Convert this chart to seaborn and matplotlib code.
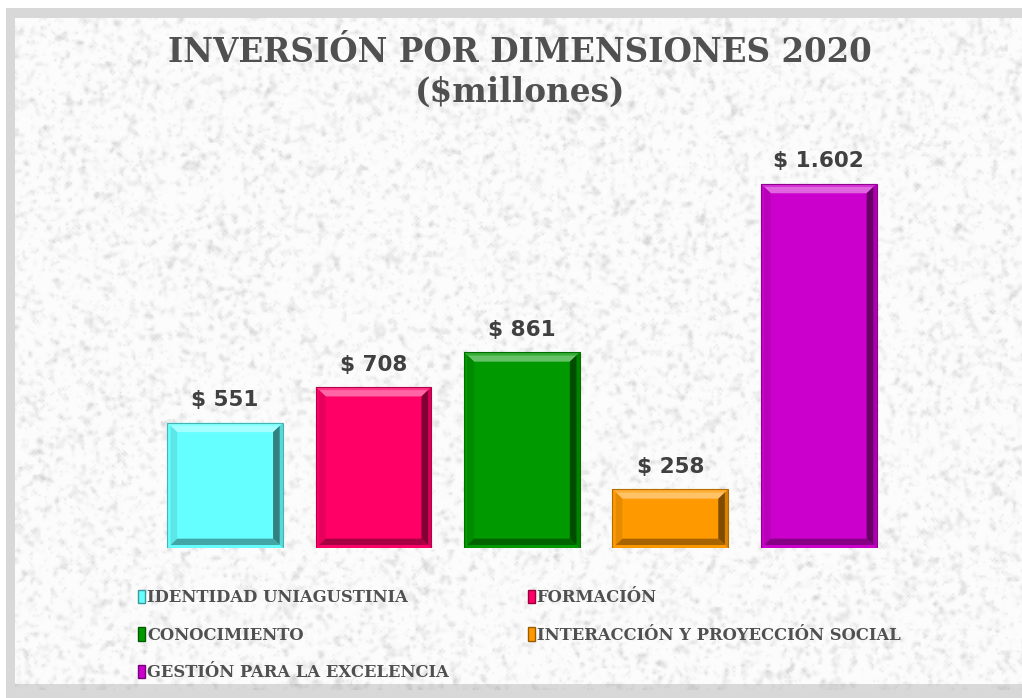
import numpy as np
import pandas as pd
import matplotlib
matplotlib.use("Agg")
import matplotlib.pyplot as plt
import seaborn as sns
from matplotlib.patches import Polygon, Rectangle, Patch
from matplotlib.colors import to_rgb

# Data
categories = [
    "IDENTIDAD UNIAGUSTINIA",
    "FORMACIÓN",
    "CONOCIMIENTO",
    "INTERACCIÓN Y PROYECCIÓN SOCIAL",
    "GESTIÓN PARA LA EXCELENCIA",
]
values = [551, 708, 861, 258, 1602]
value_labels = ["$ 551", "$ 708", "$ 861", "$ 258", "$ 1.602"]
colors = ["#66ffff", "#ff0066", "#009900", "#ff9900", "#cc00cc"]

TITLE = "INVERSIÓN POR DIMENSIONES 2020\n($millones)"
TEXT_COLOR = "#505050"

df = pd.DataFrame({"dimension": categories, "valor": values})

sns.set_theme(style="white")
plt.rcParams["font.family"] = ["DejaVu Sans"]

fig = plt.figure(figsize=(10.22, 6.98), dpi=100, facecolor="white")

# Frame: grey border + light stone-like textured panel
bg = fig.add_axes([0, 0, 1, 1], zorder=-10)
bg.add_patch(Rectangle((6, 8), 1030, 700, facecolor="#d8d8d8",
                       edgecolor="none", zorder=0))
rng = np.random.default_rng(3)
noise = rng.random((340, 520))
sm = noise.copy()
for _ in range(2):
    sm = (sm + np.roll(sm, 1, 0) + np.roll(sm, -1, 0)
          + np.roll(sm, 1, 1) + np.roll(sm, -1, 1)) / 5
tex = 0.985 - 0.12 * np.clip((sm - 0.52) * 4.0, 0, 1) - 0.04 * (noise > 0.95)
bg.imshow(tex, cmap="gray", vmin=0, vmax=1, extent=(15, 1040, 690, 18),
          aspect="auto", interpolation="bilinear", zorder=1)
# faint inner shading along the panel's bottom edge
bg.add_patch(Rectangle((15, 684), 1030, 6, facecolor="#9a9a9a", alpha=0.35,
                       edgecolor="none", zorder=2))
bg.set_xlim(0, 1022)
bg.set_ylim(698, 0)
bg.set_autoscale_on(False)
bg.axis("off")

# Bar area
ax = fig.add_axes([0.1477, 0.2149, 0.7260, 0.5860])
ax.patch.set_alpha(0)
sns.barplot(data=df, x="dimension", y="valor", hue="dimension",
            palette=colors, saturation=1, width=0.78, legend=False, ax=ax,
            edgecolor="none", linewidth=0)
ax.set_xlim(-0.5, 4.5)
ax.set_ylim(0, 1800)
ax.axis("off")

# Bevelled look, built from the bar patches themselves
rx, ry = 0.022, 13     # flat outer rim
bx, by = 0.045, 28     # sloped bevel
for patch, col in zip(list(ax.patches), colors):
    x0, y0 = patch.get_x(), patch.get_y()
    w, h = patch.get_width(), patch.get_height()
    x1, y1 = x0 + w, y0 + h
    base = np.array(to_rgb(col))
    light = base + (1 - base) * 0.4
    # outer rim highlight on top/left, shade on right/bottom
    ax.add_patch(Polygon([(x0, y1), (x1, y1), (x1 - rx, y1 - ry), (x0 + rx, y1 - ry)],
                         facecolor=base + (1 - base) * 0.2, edgecolor="none", zorder=3))
    ax.add_patch(Polygon([(x1, y0), (x1, y1), (x1 - rx, y1 - ry), (x1 - rx, y0 + ry)],
                         facecolor=base * 0.85, edgecolor="none", zorder=3))
    ox0, ox1, oy0, oy1 = x0 + rx, x1 - rx, y0 + ry, y1 - ry
    ix0, ix1, iy0, iy1 = ox0 + bx, ox1 - bx, oy0 + by, oy1 - by
    ax.add_patch(Polygon([(ox0, oy1), (ox1, oy1), (ix1, iy1), (ix0, iy1)],
                         facecolor=light, edgecolor="none", zorder=3))
    ax.add_patch(Polygon([(ox0, oy0), (ox0, oy1), (ix0, iy1), (ix0, iy0)],
                         facecolor=base * 0.9, edgecolor="none", zorder=3))
    ax.add_patch(Polygon([(ox1, oy0), (ox1, oy1), (ix1, iy1), (ix1, iy0)],
                         facecolor=base * 0.5, edgecolor="none", zorder=3))
    ax.add_patch(Polygon([(ox0, oy0), (ox1, oy0), (ix1, iy0), (ix0, iy0)],
                         facecolor=base * 0.65, edgecolor="none", zorder=3))
    ax.add_patch(Rectangle((x0, y0), w, h, facecolor="none",
                           edgecolor=base * 0.7, linewidth=0.8, zorder=4))

# Value labels
for patch, lab in zip(ax.patches[:len(values)], value_labels):
    ax.text(patch.get_x() + patch.get_width() / 2, patch.get_height() + 55, lab,
            ha="center", va="bottom", fontsize=15.5, fontweight="bold",
            color="#404040", family=["DejaVu Sans"])

# Title
fig.text(0.509, 0.896, TITLE, ha="center", va="center", fontsize=23.5,
         fontweight="bold", color=TEXT_COLOR, family=["DejaVu Serif"],
         linespacing=1.28)

# Legend: two columns, row-major order as in the reference
handles = [Patch(facecolor=c, edgecolor=np.array(to_rgb(c)) * 0.6) for c in colors]
order = [0, 2, 4, 1, 3]
leg = fig.legend([handles[i] for i in order], [categories[i] for i in order],
                 ncol=2, loc="upper left", bbox_to_anchor=(0.121, 0.177),
                 frameon=False, handlelength=0.42, handleheight=0.85,
                 handletextpad=0.12, columnspacing=4.8, labelspacing=1.25,
                 prop={"family": ["DejaVu Serif"], "weight": "bold", "size": 11.8})
for t in leg.get_texts():
    t.set_color(TEXT_COLOR)

fig.savefig("out.png", dpi=100, facecolor=fig.get_facecolor())
